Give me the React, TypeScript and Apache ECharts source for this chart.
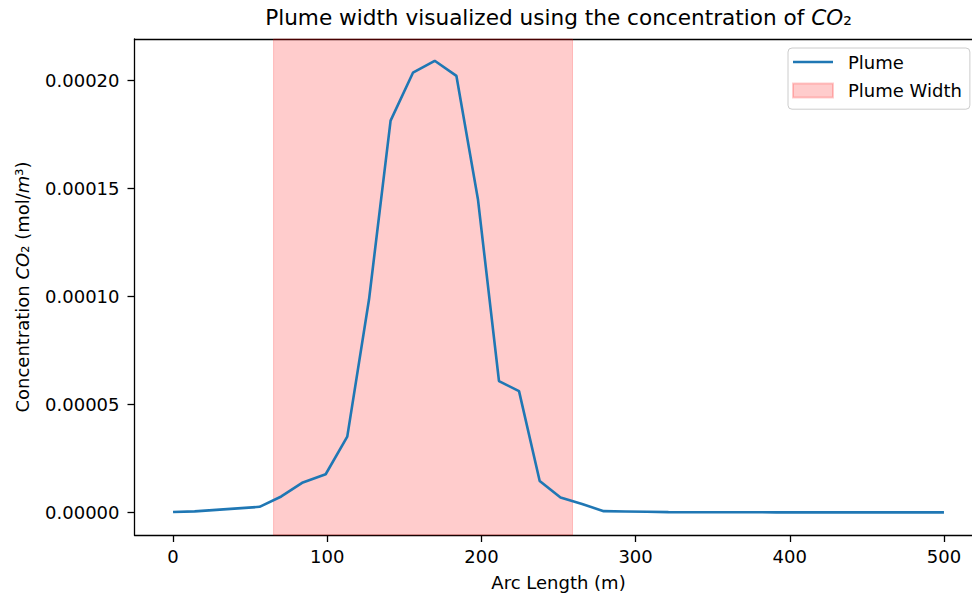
import React, { useEffect, useRef } from "react";
import * as echarts from "echarts";

// Arc length along the transect (m)
const arcLength = [
  0, 14, 28, 42, 56.1, 70.2, 84.2, 99.0, 113.0, 127.1, 141.1, 155.6, 169.7,
  183.8, 197.8, 211.4, 224.4, 237.8, 251.3, 265.3, 279.3, 293.3, 307.3, 321.3,
  335.3, 349.3, 363.3, 377.3, 391.3, 405.3, 419.3, 433.3, 447.3, 461.3, 475.3,
  489.3, 500,
];

// CO2 concentration (mol/m^3)
const concentration = [
  2.0e-7, 5.0e-7, 1.2e-6, 1.9e-6, 2.6e-6, 7.4e-6, 1.39e-5, 1.77e-5, 3.51e-5,
  9.86e-5, 1.815e-4, 2.037e-4, 2.092e-4, 2.022e-4, 1.448e-4, 6.08e-5, 5.62e-5,
  1.46e-5, 6.9e-6, 3.9e-6, 6.0e-7, 4.5e-7, 3.0e-7, 1.5e-7, 1.0e-7, 8.0e-8,
  7.0e-8, 6.0e-8, 5.0e-8, 5.0e-8, 4.0e-8, 4.0e-8, 3.0e-8, 3.0e-8, 3.0e-8,
  2.0e-8, 2.0e-8,
];

// Plume width span (m)
const plumeWidthStart = 65.2;
const plumeWidthEnd = 259.1;

// Tick values
const xTicks = [0, 100, 200, 300, 400, 500];
const yTicks = [0, 0.00005, 0.0001, 0.00015, 0.0002];

const FONT = "DejaVu Sans";

export default function App() {
  const ref = useRef<HTMLDivElement>(null);

  useEffect(() => {
    if (!ref.current) return;
    const chart = echarts.init(ref.current, null, { renderer: "svg" });
    const lineData = arcLength.map((x, i) => [x, concentration[i]]);

    chart.setOption({
      animation: false,
      backgroundColor: "#ffffff",
      title: {
        text: "{a|Plume width visualized using the concentration of }{b|CO}{a|₂}",
        left: 558.5,
        textAlign: "center",
        top: 6,
        padding: 0,
        textStyle: {
          fontWeight: "normal",
          rich: {
            a: { fontFamily: FONT, fontSize: 21.6, fontWeight: "normal", color: "#000" },
            b: {
              fontFamily: FONT,
              fontSize: 21.6,
              fontWeight: "normal",
              fontStyle: "italic",
              color: "#000",
            },
          },
        },
      },
      grid: {
        left: 134.5,
        right: 0.5,
        top: 39,
        bottom: 62,
        show: false,
      },
      legend: {
        left: 788,
        top: 48,
        orient: "vertical",
        itemWidth: 40,
        itemHeight: 14,
        itemGap: 10.6,
        padding: [5, 8, 9.6, 4],
        borderColor: "#cccccc",
        borderWidth: 1,
        borderRadius: 4,
        backgroundColor: "rgba(255,255,255,0.8)",
        textStyle: {
          fontFamily: FONT,
          fontSize: 18,
          color: "#000",
          padding: [0, 0, 0, 10],
        },
        data: [
          { name: "Plume", icon: "path://M0,0 L40,0 L40,2.6 L0,2.6 Z" },
          { name: "Plume Width", icon: "rect" },
        ],
      },
      xAxis: [
        {
          type: "value",
          min: -25,
          max: 525,
          name: "Arc Length (m)",
          nameLocation: "middle",
          nameGap: 38,
          nameTextStyle: { fontFamily: FONT, fontSize: 18, color: "#000" },
          axisLine: { show: true, onZero: false, lineStyle: { color: "#000", width: 1.3 } },
          axisTick: {
            show: true,
            length: 7,
            customValues: xTicks,
            lineStyle: { color: "#000", width: 1.3 },
          },
          axisLabel: {
            customValues: xTicks,
            margin: 12,
            fontFamily: FONT,
            fontSize: 18,
            color: "#000",
            formatter: (v: number) => String(v),
          },
          splitLine: { show: false },
        },
        {
          type: "value",
          position: "top",
          min: -25,
          max: 525,
          axisLine: { show: true, onZero: false, lineStyle: { color: "#000", width: 1.3 } },
          axisTick: { show: false },
          axisLabel: { show: false },
          splitLine: { show: false },
        },
      ],
      yAxis: {
        type: "value",
        min: -1.045e-5,
        max: 2.193e-4,
        name: "{a|Concentration }{b|CO}{a|₂ (mol/}{b|m}{a|³)}",
        nameLocation: "middle",
        nameRotate: 90,
        nameGap: 103,
        nameTextStyle: {
          rich: {
            a: { fontFamily: FONT, fontSize: 18, color: "#000" },
            b: { fontFamily: FONT, fontSize: 18, fontStyle: "italic", color: "#000" },
          },
        },
        axisLine: { show: true, onZero: false, lineStyle: { color: "#000", width: 1.3 } },
        axisTick: {
          show: true,
          length: 7,
          customValues: yTicks,
          lineStyle: { color: "#000", width: 1.3 },
        },
        axisLabel: {
          customValues: yTicks,
          margin: 15,
          fontFamily: FONT,
          fontSize: 18,
          color: "#000",
          formatter: (v: number) => v.toFixed(5),
        },
        splitLine: { show: false },
      },
      series: [
        {
          name: "Plume Width",
          type: "line",
          xAxisIndex: 0,
          data: [],
          symbol: "none",
          itemStyle: {
            color: "rgba(255,0,0,0.2)",
            borderColor: "rgba(255,0,0,0.2)",
            borderWidth: 1,
          },
          lineStyle: { color: "rgba(255,0,0,0.2)" },
          markArea: {
            silent: true,
            itemStyle: {
              color: "rgba(255,0,0,0.2)",
              borderColor: "rgba(255,0,0,0.2)",
              borderWidth: 1,
            },
            data: [[{ xAxis: plumeWidthStart }, { xAxis: plumeWidthEnd }]],
          },
        },
        {
          name: "Plume",
          type: "line",
          xAxisIndex: 0,
          data: lineData,
          symbol: "none",
          showSymbol: false,
          color: "#1f77b4",
          itemStyle: { color: "#1f77b4" },
          lineStyle: { color: "#1f77b4", width: 2.6 },
          z: 3,
        },
      ],
    });

    return () => chart.dispose();
  }, []);

  return (
    <div
      ref={ref}
      style={{ position: "fixed", left: 0, top: 0, width: 983, height: 597, background: "#fff" }}
    />
  );
}
